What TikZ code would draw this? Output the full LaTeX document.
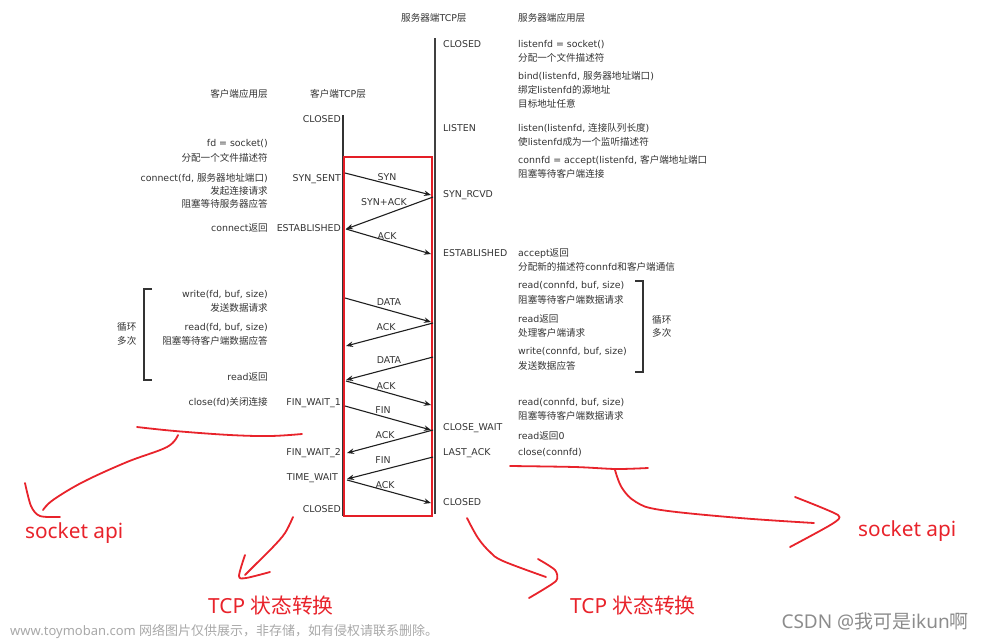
\documentclass[tikz,border=0pt]{standalone}
\usepackage{fontspec}
\setmainfont{DejaVu Sans}
\newfontfamily\cjkf[Scale=1.02]{Noto Sans CJK SC}
\newfontfamily\notos{Noto Sans}
\newfontfamily\notocjk{Noto Sans CJK SC}
\usetikzlibrary{arrows.meta}
\definecolor{txt}{HTML}{333333}
\definecolor{pen}{HTML}{E8232B}
\definecolor{boxred}{HTML}{E41E26}
\definecolor{wm}{HTML}{A8A8A8}
\newcommand\zh[1]{{\cjkf #1}}
\newcommand\fs{\fontsize{9.4}{11}\selectfont}
\newcommand\bigred{\notos\fontsize{20.8}{24}\selectfont}
\newcommand\bigcjk[1]{{\notocjk #1}}
\begin{document}
\begin{tikzpicture}[x=1pt,y=-1pt,
  lab/.style={inner sep=0pt,text height=6.8pt,text depth=0pt,text=txt,font=\fs},
  L/.style={lab,anchor=west},
  R/.style={lab,anchor=east},
  C/.style={lab,anchor=center},
  msg/.style={line width=1.1pt,black!88,-{Stealth[length=7pt,width=5.5pt]}},
  redpen/.style={pen,line width=1.8pt,line cap=round,line join=round},
  redtxt/.style={inner sep=0pt,text height=14.6pt,text depth=0pt,text=pen,font=\bigred,anchor=west},
  brk/.style={line width=1.5pt,txt}]
\useasboundingbox (0,0) rectangle (982,641);

% headers
\node[L] (hsT) at (401,18) {\zh{服务器端}TCP\zh{层}};
\node[L] (hsA) at (518,18) {\zh{服务器端应用层}};
\node[R] (hcA) at (268,94) {\zh{客户端应用层}};
\node[L] (hcT) at (310,94) {\zh{客户端}TCP\zh{层}};

% timelines
\coordinate (stop) at (435,38); \coordinate (sbot) at (435,514);
\coordinate (ctop) at (343,115); \coordinate (cbot) at (343,516);
\draw[line width=2.2pt,black!75] (stop) -- (sbot);
\draw[line width=1.5pt,black!80] (ctop) -- (cbot);
\coordinate (rb1) at (344,157); \coordinate (rb2) at (432,516);
\draw[boxred,line width=2.6pt] (rb1) rectangle (rb2);

% server states
\node[L] (s1) at (443,44) {CLOSED};
\node[L] (s2) at (443,128) {LISTEN};
\node[L] (s3) at (443,194) {SYN\_RCVD};
\node[L] (s4) at (443,253) {ESTABLISHED};
\node[L] (s5) at (443,427) {CLOSE\_WAIT};
\node[L] (s6) at (443,452) {LAST\_ACK};
\node[L] (s7) at (443,502) {CLOSED};

% client states
\node[R] (c1) at (341,119) {CLOSED};
\node[R] (c2) at (341,178) {SYN\_SENT};
\node[R] (c3) at (341,228) {ESTABLISHED};
\node[R] (c4) at (341,402) {FIN\_WAIT\_1};
\node[R] (c5) at (341,452) {FIN\_WAIT\_2};
\node[R] (c6) at (338,477) {TIME\_WAIT};
\node[R] (c7) at (341,509) {CLOSED};

% server application
\node[L] (a1) at (518,44) {listenfd = socket()};
\node[L] (a2) at (518,58) {\zh{分配一个文件描述符}};
\node[L] (a3) at (518,76) {bind(listenfd, \zh{服务器地址端口})};
\node[L] (a4) at (518,90) {\zh{绑定}listenfd\zh{的源地址}};
\node[L] (a5) at (518,104) {\zh{目标地址任意}};
\node[L] (a6) at (518,128) {listen(listenfd, \zh{连接队列长度})};
\node[L] (a7) at (518,142) {\zh{使}listenfd\zh{成为一个监听描述符}};
\node[L] (a8) at (518,160) {connfd = accept(listenfd, \zh{客户端地址端口}};
\node[L] (a9) at (518,174) {\zh{阻塞等待客户端连接}};
\node[L] (a10) at (518,253) {accept\zh{返回}};
\node[L] (a11) at (518,267) {\zh{分配新的描述符}connfd\zh{和客户端通信}};
\node[L] (a12) at (518,285) {read(connfd, buf, size)};
\node[L] (a13) at (518,300) {\zh{阻塞等待客户端数据请求}};
\node[L] (a14) at (518,319) {read\zh{返回}};
\node[L] (a15) at (518,333) {\zh{处理客户端请求}};
\node[L] (a16) at (518,351) {write(connfd, buf, size)};
\node[L] (a17) at (518,366) {\zh{发送数据应答}};
\node[L] (a18) at (518,402) {read(connfd, buf, size)};
\node[L] (a19) at (518,416) {\zh{阻塞等待客户端数据请求}};
\node[L] (a20) at (518,436) {read\zh{返回}0};
\node[L] (a21) at (518,452) {close(connfd)};

% client application
\node[R] (b1) at (268,143) {fd = socket()};
\node[R] (b2) at (268,158) {\zh{分配一个文件描述符}};
\node[R] (b3) at (268,178) {connect(fd, \zh{服务器地址端口})};
\node[R] (b4) at (268,191) {\zh{发起连接请求}};
\node[R] (b5) at (268,204) {\zh{阻塞等待服务器应答}};
\node[R] (b6) at (268,228) {connect\zh{返回}};
\node[R] (b7) at (268,294) {write(fd, buf, size)};
\node[R] (b8) at (268,308) {\zh{发送数据请求}};
\node[R] (b9) at (268,327) {read(fd, buf, size)};
\node[R] (b10) at (268,341) {\zh{阻塞等待客户端数据应答}};
\node[R] (b11) at (268,377) {read\zh{返回}};
\node[R] (b12) at (268,402) {close(fd)\zh{关闭连接}};

% brackets
\coordinate (lb1) at (152,289); \coordinate (lb2) at (144,289);
\coordinate (lb3) at (144,380); \coordinate (lb4) at (152,380);
\draw[brk] (lb1) -- (lb2) -- (lb3) -- (lb4);
\node[L] (lx1) at (117,327) {\zh{循环}};
\node[L] (lx2) at (117,341) {\zh{多次}};
\coordinate (rb1a) at (635,281); \coordinate (rb2a) at (643,281);
\coordinate (rb3a) at (643,372); \coordinate (rb4a) at (635,372);
\draw[brk] (rb1a) -- (rb2a) -- (rb3a) -- (rb4a);
\node[L] (rx1) at (652,320) {\zh{循环}};
\node[L] (rx2) at (652,333) {\zh{多次}};

% messages
\coordinate (m1s) at (345,173); \coordinate (m1e) at (431,195);
\coordinate (m2s) at (433,197); \coordinate (m2e) at (346,229);
\coordinate (m3s) at (346,229); \coordinate (m3e) at (431,254);
\coordinate (m4s) at (345,298); \coordinate (m4e) at (431,322);
\coordinate (m5s) at (433,323); \coordinate (m5e) at (346,346);
\coordinate (m6s) at (433,357); \coordinate (m6e) at (346,380);
\coordinate (m7s) at (346,381); \coordinate (m7e) at (431,405);
\coordinate (m8s) at (345,406); \coordinate (m8e) at (431,430);
\coordinate (m9s) at (433,430); \coordinate (m9e) at (347,453);
\coordinate (m10s) at (433,457); \coordinate (m10e) at (347,479);
\coordinate (m11s) at (347,480); \coordinate (m11e) at (431,503);
\foreach \i in {1,...,11} {\draw[msg] (m\i s) -- (m\i e);}
\node[C] (l1) at (387,177) {SYN};
\node[C] (l2) at (384,202) {SYN+ACK};
\node[C] (l3) at (387,236) {ACK};
\node[C] (l4) at (389,302) {DATA};
\node[C] (l5) at (386,327) {ACK};
\node[C] (l6) at (389,360) {DATA};
\node[C] (l7) at (386,386) {ACK};
\node[C] (l8) at (383,410) {FIN};
\node[C] (l9) at (385,435) {ACK};
\node[C] (l10) at (383,460) {FIN};
\node[C] (l11) at (385,485) {ACK};

% red hand-drawn annotations
\draw[redpen] plot[smooth,tension=0.6] coordinates {(137,427) (175,431) (230,435) (270,436) (302,434)};
\draw[redpen] plot[smooth,tension=0.6] coordinates {(178,435) (167,447) (127,462) (83,482) (53,500) (43,510)};
\draw[redpen] plot[smooth,tension=0.5] coordinates {(25,483) (31,506) (40,516) (60,517)};
\draw[redpen] plot[smooth,tension=0.6] coordinates {(293,517) (285,533) (273,547) (257,563) (245,575)};
\draw[redpen] plot[smooth,tension=0.5] coordinates {(245,555) (239,576) (246,578) (270,572)};
\draw[redpen] plot[smooth,tension=0.5] coordinates {(510,466) (575,467) (616,469) (648,468)};
\draw[redpen] plot[smooth,tension=0.6] coordinates {(615,470) (622,488) (636,502) (661,510) (740,518) (814,523)};
\draw[redpen] plot[smooth,tension=0.4] coordinates {(795,497) (838,515) (832,524) (790,547)};
\draw[redpen] plot[smooth,tension=0.6] coordinates {(467,518) (478,538) (490,552) (503,561) (546,577)};
\draw[redpen] plot[smooth,tension=0.4] coordinates {(538,559) (555,570) (556,581) (529,598)};

\node[redtxt] (t1) at (25,531) {socket api};
\node[redtxt] (t2) at (208,606) {TCP \bigcjk{状态转换}};
\node[redtxt] (t3) at (570,606) {TCP \bigcjk{状态转换}};
\node[redtxt] (t4) at (858,529) {socket api};

% watermarks
\node[inner sep=0pt,anchor=west,text=wm,font=\notos\fontsize{13}{15}\selectfont] (w1) at (10,632) {www.toymoban.com {\notocjk\fontsize{13}{15}\selectfont 网络图片仅供展示，非存储，如有侵权请联系删除。}};
\node[inner sep=0pt,anchor=east,text=black!45,font=\notos\fontsize{19}{21}\selectfont] (w2) at (969,621) {CSDN @{\notocjk 我可是}ikun{\notocjk 啊}};
\end{tikzpicture}
\end{document}
